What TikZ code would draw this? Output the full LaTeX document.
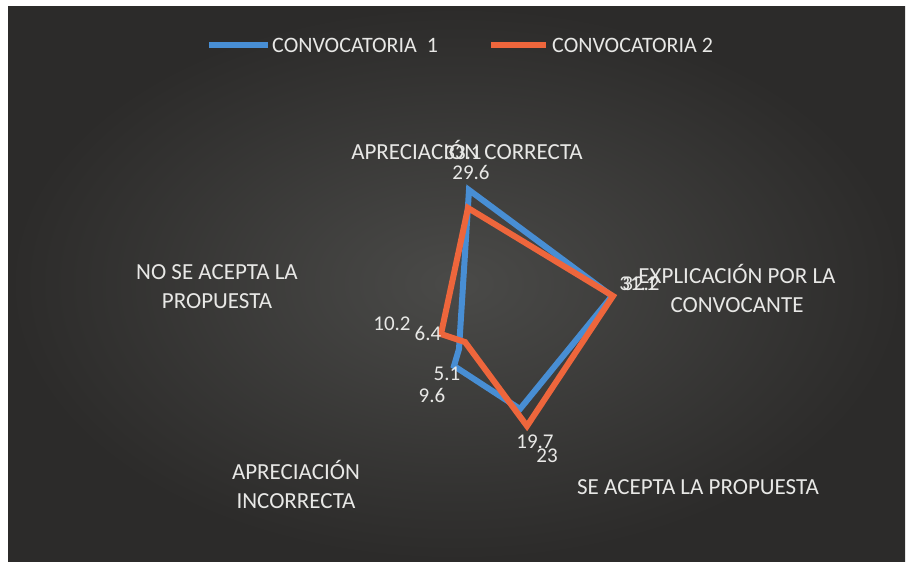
\documentclass[tikz,border=0pt]{standalone}
\usepackage{fontspec}
\setmainfont{Carlito}
\definecolor{bgin}{RGB}{74,74,72}
\definecolor{bgout}{RGB}{44,43,42}
\definecolor{cone}{RGB}{72,142,212}
\definecolor{ctwo}{RGB}{238,102,60}
\definecolor{txt}{RGB}{232,232,230}
\begin{document}
\begin{tikzpicture}[x=1pt,y=-1pt,
  axlab/.style={text=txt, font=\fontsize{23}{29}\selectfont, align=center, inner sep=0pt},
  datlab/.style={text=txt, font=\fontsize{21}{24}\selectfont, inner sep=0pt},
  leglab/.style={text=txt, font=\fontsize{22}{26}\selectfont, inner sep=0pt, anchor=west},
  serone/.style={draw=cone, line width=6pt, line join=miter},
  sertwo/.style={draw=ctwo, line width=6pt, line join=miter}]
\useasboundingbox (0,0) rectangle (910,566);
\fill[white] (0,0) rectangle (910,566);
\shade[inner color=bgin, outer color=bgout] (8,6) rectangle (905,561);

% legend
\coordinate (l1a) at (209,45); \coordinate (l1b) at (268,45);
\coordinate (l2a) at (491,45); \coordinate (l2b) at (546,45);
\draw[serone] (l1a) -- (l1b);
\draw[sertwo] (l2a) -- (l2b);
\node[leglab] (leg1) at (272,45) {CONVOCATORIA\ \ 1};
\node[leglab] (leg2) at (552,45) {CONVOCATORIA 2};

% series vertices
\coordinate (b1) at (469,190);
\coordinate (b2) at (612,296);
\coordinate (b3) at (520,409);
\coordinate (b4) at (454,366);
\coordinate (b5) at (459,349);
\coordinate (o1) at (468,208);
\coordinate (o2) at (613,296);
\coordinate (o3) at (527,426);
\coordinate (o4) at (465,342);
\coordinate (o5) at (441,334);
\draw[serone] (b1) -- (b2) -- (b3) -- (b4) -- (b5) -- cycle;
\draw[sertwo] (o1) -- (o2) -- (o3) -- (o4) -- (o5) -- cycle;

% axis labels
\node[axlab] (axtop) at (467,150) {APRECIACIÓN CORRECTA};
\node[axlab] (axright) at (737,288) {EXPLICACIÓN POR LA\\CONVOCANTE};
\node[axlab] (axbr) at (698,487) {SE ACEPTA LA PROPUESTA};
\node[axlab] (axbl) at (296,484) {APRECIACIÓN\\INCORRECTA};
\node[axlab] (axleft) at (217,287) {NO SE ACEPTA LA\\PROPUESTA};

% data labels
\node[datlab] (d1a) at (463,153) {33.1};
\node[datlab] (d1b) at (471,172) {29.6};
\node[datlab] (d2a) at (638,284) {31.1};
\node[datlab] (d2b) at (641,284) {32.2};
\node[datlab] (d3a) at (535,442) {19.7};
\node[datlab] (d3b) at (547,456) {23};
\node[datlab] (d4a) at (447,374) {5.1};
\node[datlab] (d4b) at (432,395) {9.6};
\node[datlab] (d5a) at (392,324) {10.2};
\node[datlab] (d5b) at (428,333) {6.4};
\end{tikzpicture}
\end{document}
